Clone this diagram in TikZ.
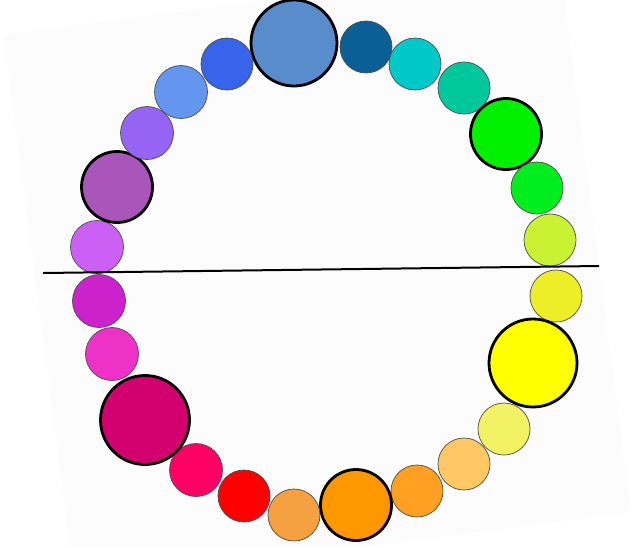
\documentclass[tikz,border=0pt]{standalone}
\usepackage{tikz}
\definecolor{cA}{RGB}{88,140,202}
\definecolor{cB}{RGB}{10,95,150}
\definecolor{cC}{RGB}{0,200,200}
\definecolor{cD}{RGB}{0,200,156}
\definecolor{cE}{RGB}{0,240,0}
\definecolor{cF}{RGB}{0,238,30}
\definecolor{cG}{RGB}{200,242,50}
\definecolor{cH}{RGB}{238,238,40}
\definecolor{cI}{RGB}{255,255,0}
\definecolor{cJ}{RGB}{242,242,100}
\definecolor{cK}{RGB}{255,200,100}
\definecolor{cL}{RGB}{255,160,35}
\definecolor{cM}{RGB}{255,152,0}
\definecolor{cN}{RGB}{245,160,65}
\definecolor{cO}{RGB}{255,0,0}
\definecolor{cP}{RGB}{255,0,100}
\definecolor{cQ}{RGB}{210,0,110}
\definecolor{cR}{RGB}{238,50,200}
\definecolor{cS}{RGB}{204,34,204}
\definecolor{cT}{RGB}{204,96,245}
\definecolor{cU}{RGB}{170,85,185}
\definecolor{cV}{RGB}{150,100,245}
\definecolor{cW}{RGB}{100,150,240}
\definecolor{cX}{RGB}{55,100,235}
\definecolor{sheet}{RGB}{252,252,252}
\begin{document}
\begin{tikzpicture}[x=1pt,y=-1pt,
  dot/.style={circle, inner sep=0pt, minimum size=#1, draw=black!70, line width=0.7pt},
  bigdot/.style={circle, inner sep=0pt, minimum size=#1, draw=black, line width=2.8pt},
  divider/.style={line width=2pt, black}]
\useasboundingbox (0,0) rectangle (634,547);
\fill[white] (0,0) rectangle (634,547);
\fill[sheet] (4,35) -- (273,0) -- (564,0) -- (630.6,511.8) -- (360,547) -- (70.6,547) -- cycle;
% ring of circles
\node[bigdot=86, fill=cA] (n1) at (294,43) {};
\node[dot=52, fill=cB] (n2) at (366,47) {};
\node[dot=52, fill=cC] (n3) at (415,64) {};
\node[dot=52, fill=cD] (n4) at (464,88) {};
\node[bigdot=71, fill=cE] (n5) at (506,134) {};
\node[dot=52, fill=cF] (n6) at (537,188) {};
\node[dot=52, fill=cG] (n7) at (550,240) {};
\node[dot=52, fill=cH] (n8) at (556,296) {};
\node[bigdot=88, fill=cI] (n9) at (533,363) {};
\node[dot=52, fill=cJ] (n10) at (504,429) {};
\node[dot=52, fill=cK] (n11) at (464,464) {};
\node[dot=52, fill=cL] (n12) at (417,491) {};
\node[bigdot=71, fill=cM] (n13) at (356,505) {};
\node[dot=52, fill=cN] (n14) at (294,515) {};
\node[dot=52, fill=cO] (n15) at (244,496) {};
\node[dot=53, fill=cP] (n16) at (196,470) {};
\node[bigdot=89, fill=cQ] (n17) at (145,420) {};
\node[dot=53, fill=cR] (n18) at (112,354) {};
\node[dot=53, fill=cS] (n19) at (99,301) {};
\node[dot=53, fill=cT] (n20) at (97,247) {};
\node[bigdot=71, fill=cU] (n21) at (117,187) {};
\node[dot=53, fill=cV] (n22) at (147,133) {};
\node[dot=53, fill=cW] (n23) at (181,92) {};
\node[dot=52, fill=cX] (n24) at (227,64) {};
% horizontal divider
\coordinate (L) at (43,273);
\coordinate (R) at (599,266);
\draw[divider] (L) -- (R);
\end{tikzpicture}
\end{document}
